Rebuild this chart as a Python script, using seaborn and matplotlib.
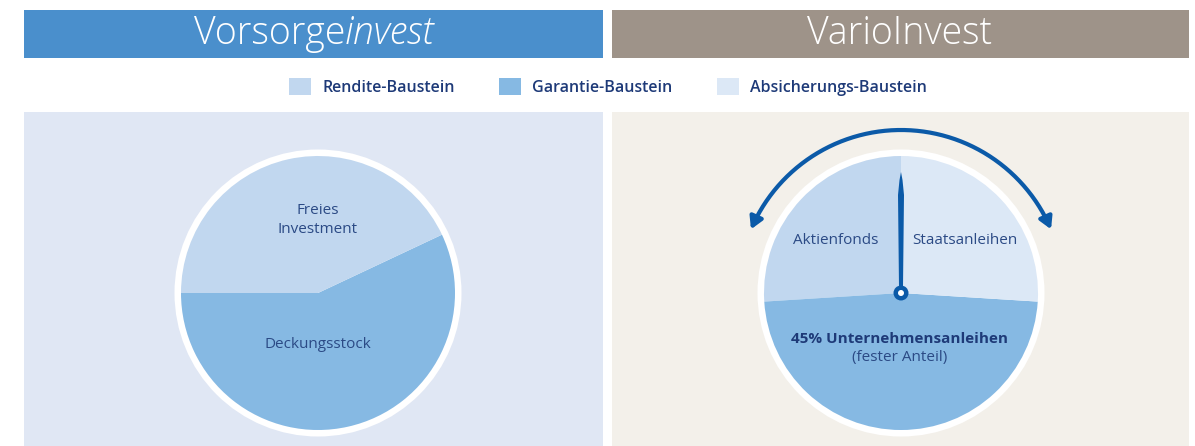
import numpy as np
import seaborn as sns
import matplotlib.pyplot as plt
from matplotlib.patches import Rectangle, Circle, Polygon, Patch, FancyArrowPatch
from matplotlib.path import Path

sns.set_theme(style="white")
plt.rcParams["font.family"] = ["Open Sans", "DejaVu Sans"]

# data
left_labels = ["Deckungsstock", "Freies\nInvestment"]
left_values = [57, 43]
right_labels = ["Aktienfonds", "45% Unternehmensanleihen", "Staatsanleihen"]
right_values = [26, 48, 26]
legend_labels = ["Rendite-Baustein", "Garantie-Baustein", "Absicherungs-Baustein"]

rendite, garantie, absicherung = sns.color_palette(["#c1d7ef", "#86b9e3", "#dce8f6"])
navy = "#1e3a78"
label_col = "#2b4a85"
needle_col = "#0b5aa8"

W, H = 1195, 446
fig = plt.figure(figsize=(W / 100, H / 100), dpi=100)
ax = fig.add_axes([0, 0, 1, 1])


def Y(y):
    return H - y


# headers and panel backgrounds
ax.add_patch(Rectangle((24, Y(58)), 579, 48, color="#4a8fcc", lw=0))
ax.add_patch(Rectangle((612, Y(58)), 577, 48, color="#9e9389", lw=0))
ax.add_patch(Rectangle((24, 0), 579, Y(112), color="#e0e7f4", lw=0))
ax.add_patch(Rectangle((612, 0), 577, Y(112), color="#f3f0ea", lw=0))

# pies
lc, rc, r = (318, Y(293)), (901, Y(293)), 137
for c in (lc, rc):
    ax.add_patch(Circle(c, r + 6.5, color="white", lw=0, zorder=1))

ax.pie(left_values, colors=[garantie, rendite], startangle=180, center=lc,
       radius=r, frame=True, wedgeprops=dict(linewidth=0, zorder=2))
ax.pie(right_values, colors=[rendite, garantie, absicherung], startangle=90,
       center=rc, radius=r, frame=True, wedgeprops=dict(linewidth=0, zorder=2))

ax.set_xlim(0, W)
ax.set_ylim(0, H)
ax.set_aspect("equal")
ax.set_axis_off()

# pie labels
fs = 11
ax.text(318, Y(345), left_labels[0], ha="center", va="center", fontsize=fs, color=label_col, zorder=5)
ax.text(318, Y(220), left_labels[1], ha="center", va="center", fontsize=fs, color=label_col,
        linespacing=1.3, zorder=5)
ax.text(836, Y(241), right_labels[0], ha="center", va="center", fontsize=fs, color=label_col, zorder=5)
ax.text(965, Y(241), right_labels[2], ha="center", va="center", fontsize=fs, color=label_col, zorder=5)
ax.text(900, Y(339), right_labels[1], ha="center", va="center", fontsize=fs, fontweight="bold",
        color=navy, zorder=5)
ax.text(900, Y(357), "(fester Anteil)", ha="center", va="center", fontsize=fs, color=label_col, zorder=5)

# needle
ax.add_patch(Polygon([(901, Y(172)), (902.5, Y(180)), (904, Y(195)), (903, Y(287)),
                      (899, Y(287)), (898, Y(195)), (899.5, Y(180))],
                     closed=True, color=needle_col, lw=0, zorder=6))
ax.add_patch(Circle(rc, 7.5, color=needle_col, lw=0, zorder=7))
ax.add_patch(Circle(rc, 3, color="white", lw=0, zorder=8))

# double arc arrow
t = np.radians(np.linspace(157, 23, 60))
arc = Path(np.column_stack([rc[0] + 163 * np.cos(t), rc[1] + 163 * np.sin(t)]))
ax.add_patch(FancyArrowPatch(path=arc, arrowstyle="<|-|>,head_length=7,head_width=4",
                             color=needle_col, lw=3, zorder=6))

# legend
handles = [Patch(facecolor=c, edgecolor="none") for c in (rendite, garantie, absicherung)]
leg = ax.legend(handles, legend_labels, ncol=3, loc="center", bbox_to_anchor=(608 / W, Y(87) / H),
                frameon=False, handlelength=1.35, handleheight=1.3, handletextpad=0.7,
                columnspacing=2.8, prop={"size": 11.5, "weight": "semibold"})
for txt in leg.get_texts():
    txt.set_color(navy)

# titles
t2 = ax.text(900, Y(34), "VarioInvest", ha="center", va="center", fontsize=27,
             fontweight="light", color="white")
a = ax.text(314, Y(34), "Vorsorge", ha="right", va="center", fontsize=27, fontweight="light", color="white")
b = ax.text(314, Y(34), "invest", ha="left", va="center", fontsize=27, fontweight="light",
            style="italic", color="white")
fig.canvas.draw()
rend = fig.canvas.get_renderer()
w1 = a.get_window_extent(rend).width
w2 = b.get_window_extent(rend).width
xs = 314 + (w1 - w2) / 2
a.set_x(xs)
b.set_x(xs)

fig.savefig("out.png", dpi=100, facecolor="white")
